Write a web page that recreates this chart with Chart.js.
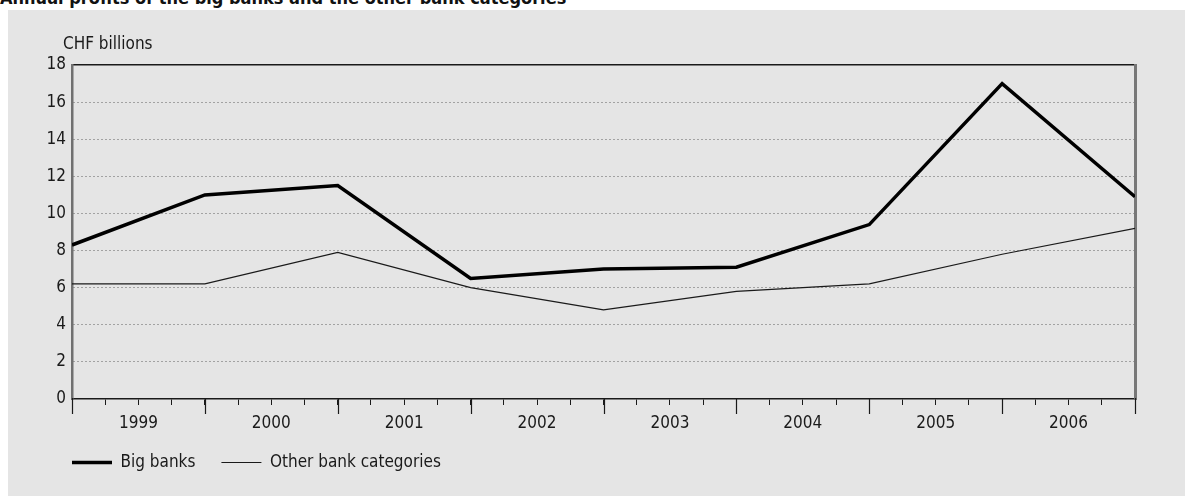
<!DOCTYPE html>
<html>
<head>
<meta charset="utf-8">
<script src="https://cdn.jsdelivr.net/npm/chart.js@4.4.1/dist/chart.umd.min.js"></script>
<style>
  html, body { margin: 0; padding: 0; background: #fff; }
  body { width: 1185px; height: 496px; position: relative; overflow: hidden; }
  #title { position: absolute; left: 0; top: -11px; font: bold 18px "DejaVu Sans Condensed", "DejaVu Sans", sans-serif; line-height: 18px; color: #111; white-space: nowrap; }
  #panel { position: absolute; left: 8px; top: 10px; width: 1177px; height: 486px; background: #e5e5e5; }
</style>
</head>
<body>
<div id="title">Annual profits of the big banks and the other bank categories</div>
<div id="panel"><canvas id="myChart" width="1177" height="486"></canvas></div>
<script>
// year-end points, 1998 .. 2006
var years = ['1999', '2000', '2001', '2002', '2003', '2004', '2005', '2006'];
var bigBanks = [8.3, 11.0, 11.5, 6.5, 7.0, 7.1, 9.4, 17.0, 10.9];
var otherBanks = [6.2, 6.2, 7.9, 6.0, 4.8, 5.8, 6.2, 7.8, 9.2];
var unitLabel = 'CHF billions';

var FONT = '"DejaVu Sans Condensed", "DejaVu Sans", sans-serif';

function toPoints(arr) {
    var pts = [];
    for (let i = 0; i < arr.length; i++) pts.push({x: i, y: arr[i]});
    return pts;
}

// long ticks at year boundaries + unit label + legend shift
var extras = {
    id: 'extras',
    afterLayout: (chart) => {
        var lg = chart.legend;
        var shift = chart.chartArea.left - lg.options.labels.padding - lg.left;
        lg.left += shift;
        lg.right += shift;
    },
    afterDraw: (chart) => {
        var c = chart.ctx;
        var xs = chart.scales.x;
        var y0 = chart.chartArea.bottom;
        c.save();
        c.strokeStyle = '#1a1a1a';
        c.lineWidth = 1.2;
        for (let i = 0; i <= years.length; i++) {
            var px = Math.round(xs.getPixelForValue(i)) + 0.5;
            c.beginPath();
            c.moveTo(px, y0 - 1);
            c.lineTo(px, y0 + 15);
            c.stroke();
        }
        c.fillStyle = '#1a1a1a';
        c.font = '17px ' + FONT;
        c.textBaseline = 'alphabetic';
        c.fillText(unitLabel, chart.chartArea.left - 9, 39);
        c.restore();
    }
};

var ctx = document.getElementById('myChart').getContext('2d');
var myChart = new Chart(ctx, {
    type: 'line',
    data: {
        datasets: [{
            label: 'Big banks',
            data: toPoints(bigBanks),
            borderColor: '#000',
            backgroundColor: '#000',
            borderWidth: 3.5,
            pointRadius: 0,
            pointStyle: 'line',
            tension: 0
        }, {
            label: 'Other bank categories',
            data: toPoints(otherBanks),
            borderColor: '#1a1a1a',
            backgroundColor: '#1a1a1a',
            borderWidth: 1.2,
            pointRadius: 0,
            pointStyle: 'line',
            tension: 0
        }]
    },
    options: {
        responsive: false,
        animation: false,
        events: [],
        layout: { padding: { top: 55, right: 50, bottom: 15, left: 0 } },
        plugins: {
            tooltip: { enabled: false },
            title: { display: false },
            legend: {
                position: 'bottom',
                align: 'start',
                labels: {
                    usePointStyle: true,
                    pointStyle: 'line',
                    pointStyleWidth: 40,
                    padding: 26,
                    color: '#1a1a1a',
                    font: { family: FONT, size: 17 }
                }
            }
        },
        scales: {
            x: {
                type: 'linear',
                position: 'bottom',
                min: 0,
                max: years.length,
                afterBuildTicks: (s) => {
                    s.ticks = [];
                    for (let v = 0; v <= years.length; v += 0.25) s.ticks.push({value: v});
                },
                afterFit: (s) => { s.height = 29; },
                ticks: {
                    autoSkip: false,
                    maxRotation: 0,
                    padding: 8,
                    color: '#1a1a1a',
                    font: { family: FONT, size: 17 },
                    callback: (v) => (v % 1 === 0.5) ? years[Math.floor(v)] : ''
                },
                grid: {
                    drawOnChartArea: false,
                    tickLength: 6,
                    tickColor: '#1a1a1a',
                    tickWidth: 1
                },
                border: { color: '#1a1a1a', width: 1.5 }
            },
            xTop: {
                type: 'linear',
                position: 'top',
                min: 0,
                max: years.length,
                afterFit: (s) => { s.height = 0; },
                ticks: { display: false },
                grid: { display: false, drawTicks: false },
                border: { display: true, color: '#1a1a1a', width: 1.5 }
            },
            y: {
                min: 0,
                max: 18,
                afterFit: (s) => { s.width = 64; },
                ticks: {
                    stepSize: 2,
                    padding: 6,
                    color: '#1a1a1a',
                    font: { family: FONT, size: 17 }
                },
                grid: {
                    drawTicks: false,
                    lineWidth: 1,
                    color: (c) => (c.tick.value === 0 || c.tick.value === 18) ? 'rgba(0,0,0,0)' : '#5e5e5e'
                },
                border: { color: '#707070', width: 2.5, dash: [1, 3] }
            },
            yRight: {
                position: 'right',
                min: 0,
                max: 18,
                afterFit: (s) => { s.width = 0; },
                ticks: { display: false },
                grid: { display: false, drawTicks: false },
                border: { display: true, color: '#777', width: 3 }
            }
        }
    },
    plugins: [extras]
});
</script>
</body>
</html>
